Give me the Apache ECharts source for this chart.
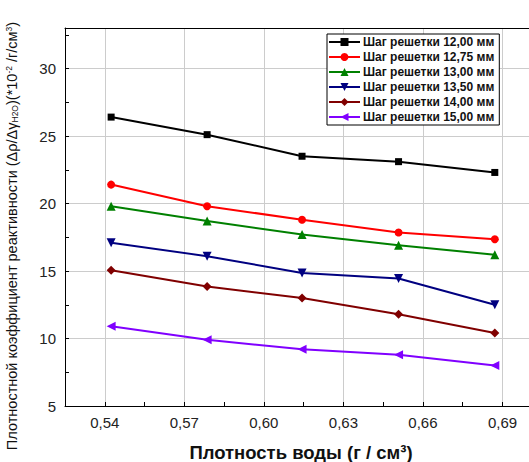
<!DOCTYPE html>
<html lang="ru">
<head>
<meta charset="UTF-8">
<title>Плотностной коэффициент реактивности</title>
<script src="https://cdn.jsdelivr.net/npm/echarts@6/dist/echarts.min.js"></script>
<style>
  html, body { margin: 0; padding: 0; background: #fff; }
  #chart { width: 529px; height: 462px; }
</style>
</head>
<body>
<div id="chart"></div>
<script>
// плотность воды, г/см3
var density = [0.5424, 0.5786, 0.6144, 0.6508, 0.6871];

var pitch120 = [26.4, 25.1, 23.5, 23.1, 22.3];
var pitch1275 = [21.4, 19.8, 18.8, 17.85, 17.35];
var pitch130 = [19.8, 18.7, 17.7, 16.9, 16.2];
var pitch135 = [17.1, 16.1, 14.85, 14.45, 12.5];
var pitch140 = [15.05, 13.85, 13.0, 11.8, 10.4];
var pitch150 = [10.9, 9.9, 9.2, 8.8, 8.0];

var seriesNames = [
  'Шаг решетки 12,00 мм',
  'Шаг решетки 12,75 мм',
  'Шаг решетки 13,00 мм',
  'Шаг решетки 13,50 мм',
  'Шаг решетки 14,00 мм',
  'Шаг решетки 15,00 мм'
];

var FONT = 'Arial, "Liberation Sans", sans-serif';

function pairs(ys) {
  return density.map(function (x, i) { return [x, ys[i]]; });
}

function line(name, ys, color, symbol, rotate, size) {
  return {
    name: name,
    type: 'line',
    data: pairs(ys),
    symbol: symbol,
    symbolSize: size,
    symbolRotate: rotate,
    lineStyle: { color: color, width: 2 },
    itemStyle: { color: color },
    emphasis: { disabled: true }
  };
}

var chart = echarts.init(document.getElementById('chart'), null, { renderer: 'svg' });

chart.setOption({
  animation: false,
  grid: { left: 65, right: 0, top: 28, bottom: 56, containLabel: false, outerBoundsMode: 'none' },
  legend: {
    data: seriesNames,
    orient: 'vertical',
    left: 327,
    top: 34,
    padding: [2, 5, 2, 1],
    itemWidth: 31,
    itemHeight: 10,
    itemGap: 3,
    backgroundColor: '#fff',
    borderColor: '#000',
    borderWidth: 1,
    textStyle: { fontFamily: FONT, fontSize: 12, fontWeight: 'bold', color: '#111', padding: [0, 0, 0, -2] }
  },
  xAxis: [{
    type: 'value',
    min: 0.525,
    max: 0.70,
    interval: 0.015,
    name: 'Плотность воды (г / см³)',
    nameLocation: 'middle',
    nameGap: 37,
    nameTextStyle: { fontFamily: FONT, fontSize: 18.5, fontWeight: 'bold', color: '#111', padding: [0, 0, 0, 8] },
    axisLine: { lineStyle: { color: '#000', width: 1 } },
    axisTick: { inside: true, length: 4, lineStyle: { color: '#000' } },
    axisLabel: {
      margin: 9,
      fontFamily: FONT, fontSize: 15, color: '#222',
      showMinLabel: true, showMaxLabel: false,
      formatter: function (v) {
        if (Math.round(v * 1000) % 30 !== 0) return '';
        return v.toFixed(2).replace('.', ',');
      }
    },
    splitLine: { show: true, lineStyle: { color: ['rgba(0,0,0,0)', '#cccccc'], width: 1 } }
  }, {
    type: 'value',
    position: 'top',
    min: 0.525,
    max: 0.70,
    axisLine: { show: true, lineStyle: { color: '#000', width: 1 } },
    axisTick: { show: false },
    axisLabel: { show: false },
    splitLine: { show: false }
  }],
  yAxis: {
    type: 'value',
    min: 5,
    max: 33,
    interval: 2.5,
    name: 'Плотностной коэффициент реактивности (Δρ/Δγ{sub|H2O})(*10{sup|-2} /г/см{sup|3})',
    nameLocation: 'middle',
    nameGap: 46,
    nameTextStyle: {
      fontFamily: FONT, fontSize: 14.5, color: '#111',
      padding: [0, 38, 0, 0],
      rich: {
        sub: { fontFamily: FONT, fontSize: 8.5, color: '#111', padding: [6, 0, 0, 0] },
        sup: { fontFamily: FONT, fontSize: 8.5, color: '#111', padding: [0, 0, 6, 0] }
      }
    },
    axisLine: { show: true, lineStyle: { color: '#000', width: 1 } },
    axisTick: { inside: true, length: 4, lineStyle: { color: '#000' } },
    axisLabel: {
      margin: 9,
      fontFamily: FONT, fontSize: 15, color: '#222',
      formatter: function (v) {
        return (v % 5 === 0 && v <= 30) ? String(v) : '';
      }
    },
    splitLine: { show: true, lineStyle: { color: ['#cccccc', 'rgba(0,0,0,0)'], width: 1 } }
  },
  series: [
    line(seriesNames[0], pitch120, '#000000', 'rect', 0, 7),
    line(seriesNames[1], pitch1275, '#ff0000', 'circle', 0, 8),
    line(seriesNames[2], pitch130, '#008000', 'triangle', 0, 9),
    line(seriesNames[3], pitch135, '#000080', 'triangle', 180, 9),
    line(seriesNames[4], pitch140, '#800000', 'diamond', 0, 9),
    line(seriesNames[5], pitch150, '#8000ff', 'triangle', 90, 9)
  ]
});
</script>
</body>
</html>
